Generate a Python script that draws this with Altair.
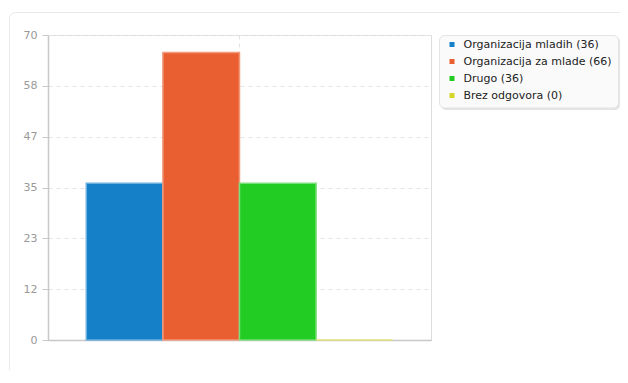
import altair as alt
import pandas as pd

series = ["Organizacija mladih (36)", "Organizacija za mlade (66)", "Drugo (36)", "Brez odgovora (0)"]
values = [36, 66, 36, 0]
fill_colors = ["#1580C8", "#E95F32", "#22CC22", "#D6D62A"]
edge_colors = ["#6AB0DE", "#F29A7C", "#7ADF7A", "#E4E47A"]
y_ticks = [0, 70 / 6, 140 / 6, 35, 280 / 6, 350 / 6, 70]

df = pd.DataFrame({"group": ["all"] * len(series), "series": series, "value": values})
one = pd.DataFrame({"k": [0]})

PLOT_W, PLOT_H = 383, 305

frame = alt.Chart(one).mark_rect(
    fill="white", fillOpacity=0, stroke="#e9e9e9", strokeWidth=1, cornerRadius=6
).encode(
    x=alt.value(-38.5), x2=alt.value(800), y=alt.value(-22.5), y2=alt.value(500)
)

legend_shadow = alt.Chart(one).mark_rect(fill="#e4e4e4", cornerRadius=5).encode(
    x=alt.value(393), x2=alt.value(572), y=alt.value(1.5), y2=alt.value(75)
)
legend_box = alt.Chart(one).mark_rect(
    fill="#fafafa", stroke="#e4e4e4", strokeWidth=1, cornerRadius=5
).encode(
    x=alt.value(391.5), x2=alt.value(570.5), y=alt.value(0.5), y2=alt.value(73)
)

bars = alt.Chart(df).mark_bar(strokeWidth=1.5, opacity=1).encode(
    x=alt.X(
        "group:N",
        title=None,
        scale=alt.Scale(paddingInner=0, paddingOuter=0.125),
        axis=alt.Axis(
            labels=False, ticks=False, domain=True, domainColor="#c8c8c8", domainWidth=1.5,
            grid=True, gridDash=[4, 4], gridColor="#e2e2e2", bandPosition=0.5,
        ),
    ),
    xOffset=alt.XOffset("series:N", sort=series, scale=alt.Scale(paddingInner=0, paddingOuter=0)),
    y=alt.Y(
        "value:Q",
        title=None,
        scale=alt.Scale(domain=[0, 70], nice=False),
        axis=alt.Axis(
            values=y_ticks, format=".0f", labelColor="#999999", labelFontSize=11,
            labelFont="DejaVu Sans", tickColor="#c8c8c8", tickSize=6, labelPadding=5,
            domainColor="#c8c8c8", domainWidth=1.5, gridDash=[4, 4], gridColor="#e4e4e4",
        ),
    ),
    color=alt.Color(
        "series:N",
        sort=series,
        scale=alt.Scale(domain=series, range=fill_colors),
        legend=alt.Legend(
            title=None, orient="none", legendX=398.5, legendY=4, padding=0,
            symbolType="square", symbolSize=25, symbolStrokeWidth=0,
            labelFont="DejaVu Sans", labelFontSize=11, labelColor="#222222",
            labelOffset=6, rowPadding=5,
        ),
    ),
    stroke=alt.Stroke("series:N", sort=series, scale=alt.Scale(domain=series, range=edge_colors), legend=None),
)

chart = alt.layer(frame, legend_shadow, legend_box, bars).properties(
    width=PLOT_W,
    height=PLOT_H,
    autosize=alt.AutoSizeParams(type="none"),
    padding={"left": 40, "top": 27, "right": 189, "bottom": 30},
).configure_view(
    fill="#f7f7f7", stroke="#e2e2e2", strokeWidth=1
).configure(background="white")

chart.save("out.html", embed_options={"renderer": "svg", "actions": False})
